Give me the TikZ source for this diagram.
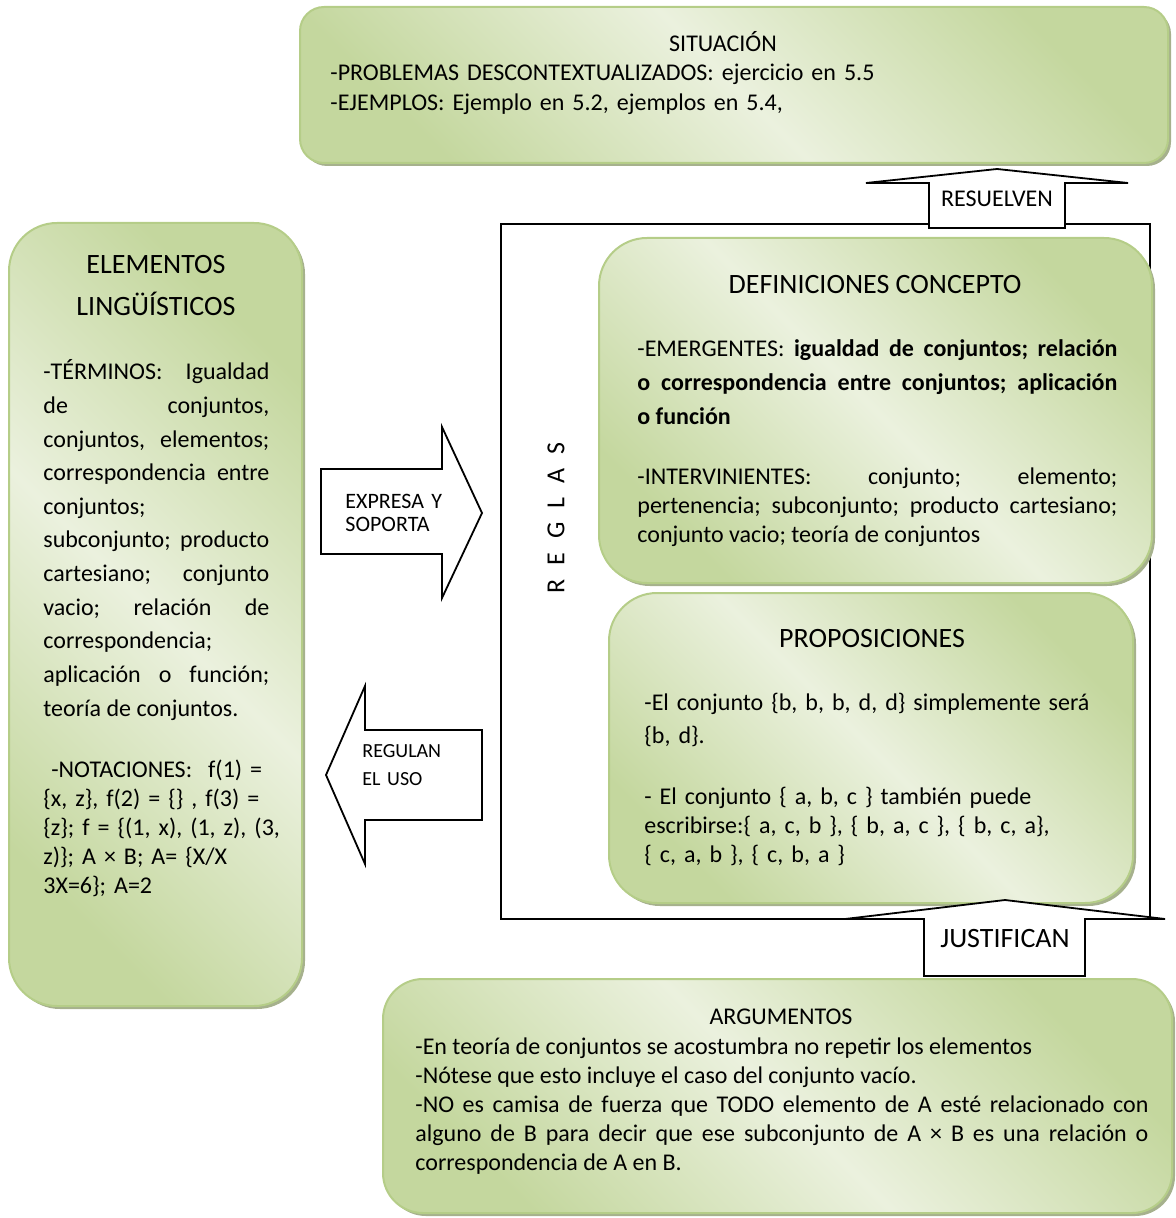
\documentclass[tikz,border=0pt]{standalone}
\usepackage{fontspec}
\setmainfont{Carlito}
\usetikzlibrary{positioning,fit,shadows}

\definecolor{olivelight}{HTML}{EBF1DE}
\definecolor{olivedark}{HTML}{C4D79E}
\definecolor{oliveline}{HTML}{B5CD88}
\definecolor{oliveshadow}{HTML}{A6B18D}

\hyphenpenalty=10000
\exhyphenpenalty=10000
\hbadness=10000
\frenchspacing

\begin{document}
\begin{tikzpicture}[
    x=0.5pt, y=-0.5pt,
    box/.style={draw=oliveline, line width=1pt, rounded corners=#1,
                top color=olivedark, bottom color=olivedark,
                middle color=olivelight, shading angle=-45, inner sep=0pt,
                drop shadow={shadow xshift=1.5pt, shadow yshift=-1.5pt,
                             fill=oliveshadow, opacity=1}},
    box/.default=24pt,
    frame/.style={draw, line width=1pt, inner sep=0pt},
    blockarrow/.style={draw, fill=white, line width=0.9pt, line join=miter},
    head/.style={inner sep=0pt, font=\fontsize{14pt}{21pt}\selectfont},
    txt/.style={inner sep=0pt, anchor=base west, align=left,
                font=\fontsize{12pt}{14.6pt}\selectfont},
    loose/.style={txt, font=\fontsize{12pt}{16.8pt}\selectfont},
]
\useasboundingbox (0,0) rectangle (1175,1218);

% --- boxes ---
\node[box=12pt, fit={(300,7) (1168,163)}] (situacion) {};
\node[box, fit={(9,223) (302,1006)}] (elementos) {};
\node[frame, fit={(501,224) (1150,919)}] (reglasframe) {};
\node[box, fit={(599,238) (1152,583)}] (definiciones) {};
\node[box, fit={(609,593) (1133,903)}] (proposiciones) {};
\node[box=20pt, fit={(383,979) (1172,1213)}] (argumentos) {};

% --- block arrows ---
\draw[blockarrow] (929,228) -- (929,183) -- (866,183) -- (997,169)
    -- (1128,183) -- (1065,183) -- (1065,228) -- cycle;
\node[txt, anchor=base] (resuelven) at (997,207) {RESUELVEN};

\draw[blockarrow] (924,976) -- (924,919) -- (845,919) -- (1005,900)
    -- (1165,919) -- (1085,919) -- (1085,976) -- cycle;
\node[head, anchor=base] (justifican) at (1005,947) {JUSTIFICAN};

\draw[blockarrow] (321,469) -- (442,469) -- (442,427) -- (482,513)
    -- (442,598) -- (442,554) -- (321,554) -- cycle;
\node[txt, text width=60pt, font=\fontsize{11pt}{11.5pt}\selectfont]
    (expresa) at (345,509) {EXPRESA Y\\SOPORTA};

\draw[blockarrow] (482,730) -- (365,730) -- (365,686) -- (326,775)
    -- (365,864) -- (365,820) -- (482,820) -- cycle;
\node[txt, text width=60pt, font=\fontsize{10pt}{14pt}\selectfont]
    (regulan) at (362,757) {REGULAN\\EL USO};

% --- vertical label of the frame ---
\node[rotate=90, inner sep=0pt, font=\fontsize{13pt}{13pt}\selectfont] (reglas) at (556,518)
    {R\hspace{6.9pt}E\hspace{6.9pt}G\hspace{6.9pt}L\hspace{6.9pt}A\hspace{6.9pt}S};

% --- situacion ---
\node[txt, anchor=base] (sittitle) at (723,52) {SITUACIÓN};
\node[txt, text width=420pt] (sitbody) at (330,81)
    {-PROBLEMAS DESCONTEXTUALIZADOS: ejercicio en 5.5\\
     -EJEMPLOS: Ejemplo en 5.2, ejemplos en 5.4,};

% --- elementos linguisticos ---
\node[head, anchor=base, text width=140pt, align=center] (eltitle) at (156,274)
    {ELEMENTOS\\LINGÜÍSTICOS};
\node[loose, text width=113pt, align=justify] (elterms) at (43,380)
    {-TÉRMINOS: Igualdad\linebreak de conjuntos,\linebreak conjuntos, elementos;\linebreak
     correspondencia entre\linebreak conjuntos;\newline subconjunto; producto\linebreak
     cartesiano; conjunto\linebreak vacio; relación de\linebreak correspondencia;\newline
     aplicación o función;\linebreak teoría de conjuntos.};
\node[txt, text width=130pt] (elnotes) at (43,777)
    {\ -NOTACIONES:\ \ f(1) =\\
     \{x, z\}, f(2) = \{\} , f(3) =\\
     \{z\}; f = \{(1, x), (1, z), (3,\\
     z)\}; A × B; A= \{X/X\\
     3X=6\}; A=2};

% --- definiciones ---
\node[head, anchor=base] (deftitle) at (875,294) {DEFINICIONES CONCEPTO};
\node[loose, text width=240pt, align=justify] (defemerg) at (637,357)
    {-EMERGENTES: \textbf{igualdad de conjuntos; relación\linebreak
     o correspondencia entre conjuntos; aplicación\linebreak o función}};
\node[txt, text width=240pt, align=justify] (definterv) at (637,484)
    {-INTERVINIENTES: conjunto; elemento;\linebreak
     pertenencia; subconjunto; producto cartesiano;\linebreak
     conjunto vacio; teoría de conjuntos};

% --- proposiciones ---
\node[head, anchor=base] (proptitle) at (872,647) {PROPOSICIONES};
\node[loose, text width=240pt] (propone) at (644,710)
    {-El conjunto \{b, b, b, d, d\} simplemente será\\\{b, d\}.};
\node[txt, text width=240pt] (proptwo) at (644,804)
    {- El conjunto \{ a, b, c \} también puede\\
     escribirse:\{ a, c, b \}, \{ b, a, c \}, \{ b, c, a\},\\
     \{ c, a, b \}, \{ c, b, a \}};

% --- argumentos ---
\node[txt, anchor=base] (argtitle) at (781,1024) {ARGUMENTOS};
\node[txt, text width=366.5pt, align=justify] (argbody) at (415,1054)
    {-En teoría de conjuntos se acostumbra no repetir los elementos\newline
     -Nótese que esto incluye el caso del conjunto vacío.\newline
     -NO es camisa de fuerza que TODO elemento de A esté relacionado con\linebreak
     alguno de B para decir que ese subconjunto de A × B es una relación o\linebreak
     correspondencia de A en B.};

\end{tikzpicture}
\end{document}
